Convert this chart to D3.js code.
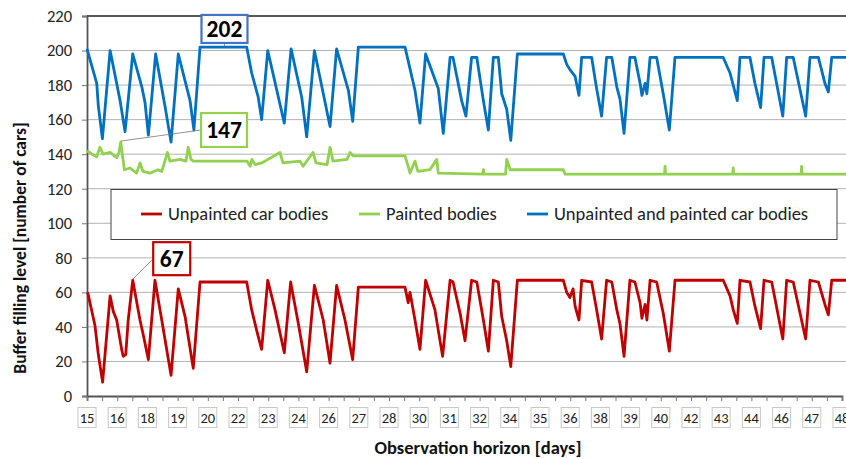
<!DOCTYPE html>
<html>
<head>
<meta charset="utf-8">
<script src="https://cdn.jsdelivr.net/npm/d3@7"></script>
<style>
  html, body { margin: 0; padding: 0; background: #fff; }
  svg { display: block; font-family: Carlito, Lato, "Open Sans", sans-serif; }
</style>
</head>
<body>
<div id="chart"></div>
<script>
// ── Data ──
const xTickLabels = ['15','16','18','19','20','22','23','24','26','27','28','30','31','32','34','35','36','38','39','40','42','43','44','46','47','48'];
const yTicks = [0, 20, 40, 60, 80, 100, 120, 140, 160, 180, 200, 220];

const seriesNames = ['Unpainted car bodies', 'Painted bodies', 'Unpainted and painted car bodies'];
const seriesColors = ['#c00000', '#92d050', '#0070c0'];

const redDays = [15.03,15.35,15.50,15.69,16.02,16.16,16.31,16.53,16.60,16.71,16.82,17.02,17.34,17.49,17.71,18.00,18.30,18.71,19.03,19.33,19.69,19.99,22.05,22.27,22.49,22.71,22.98,23.30,23.71,23.99,24.33,24.70,25.04,25.43,25.73,26.02,26.39,26.73,26.98,29.04,29.18,29.26,29.48,29.70,29.95,30.36,30.51,30.70,31.03,31.16,31.47,31.69,31.98,32.21,32.50,32.72,32.94,33.16,33.31,33.53,33.71,34.00,36.03,36.18,36.32,36.46,36.55,36.72,36.84,37.28,37.50,37.72,37.94,38.17,38.39,38.53,38.71,38.97,39.19,39.42,39.50,39.64,39.72,39.86,40.15,40.44,40.71,40.96,43.09,43.39,43.53,43.71,43.83,44.27,44.49,44.74,44.89,45.23,45.72,45.89,46.18,46.73,46.92,47.29,47.58,47.73,47.88,48.51];
const redVals = [60,41,24,8,58,49,44,27,23,24,44,67,44,35,21,67,44,12,62,46,16,66,66,50,38,27,67,50,25,66,42,14,64,44,19,64,44,21,63,63,54,60,44,27,67,50,38,23,67,66,48,32,67,66,44,26,67,66,46,32,17,67,67,60,57,62,52,44,67,66,50,33,67,66,50,42,23,67,66,54,45,53,44,67,66,48,26,67,67,58,50,42,67,66,52,39,67,66,33,67,66,33,67,66,53,47,67,67];

const greenDays = [15.00,15.22,15.43,15.57,15.71,16.02,16.31,16.41,16.49,16.65,16.90,17.19,17.34,17.47,17.78,18.13,18.30,18.44,18.55,18.66,19.11,19.37,19.47,19.59,19.69,22.06,22.20,22.28,22.42,22.73,22.99,23.52,23.65,24.40,24.54,24.98,25.11,25.60,25.73,25.86,26.48,26.61,26.76,29.04,29.22,29.26,29.48,29.61,30.14,30.44,30.51,32.47,32.50,32.53,33.48,33.53,33.68,36.03,36.10,40.50,40.52,40.54,43.51,43.53,43.55,46.53,46.55,46.57,48.51];
const greenVals = [142,140,138.5,144,140,141,138,141,147,131,132,129,135,130,129,131,130,136,141,136,137,136,144,137,136,136,133,137,134,135,137,141,135,136,133,141,135,134,144,136,137,141,139,139,131,129,136,130,131,137,129,128.5,131,128.5,128.5,137,131,131,128.5,128.5,133,128.5,128.5,132,128.5,128.5,133,128.5,128.5];

const blueDays = [15.00,15.43,15.50,15.68,16.02,16.31,16.46,16.68,17.02,17.42,17.56,17.71,18.03,18.44,18.71,19.03,19.55,19.72,19.99,22.05,22.27,22.56,22.71,22.98,23.71,24.01,24.48,24.70,25.04,25.73,26.02,26.54,26.73,26.98,29.04,29.48,29.70,29.95,30.51,30.73,31.03,31.16,31.54,31.73,31.98,32.21,32.50,32.72,32.94,33.16,33.31,33.53,33.71,34.00,36.03,36.18,36.32,36.55,36.72,36.84,37.28,37.50,37.72,37.94,38.17,38.39,38.53,38.71,38.97,39.19,39.42,39.50,39.64,39.72,39.86,40.15,40.44,40.71,40.96,43.09,43.39,43.53,43.71,43.83,44.27,44.49,44.74,44.89,45.23,45.72,45.89,46.18,46.73,46.92,47.29,47.58,47.73,47.88,48.51];
const blueVals = [201,181,168,149,200,181,171,153,198,179,170,151,198,168,147,198,171,154,202,202,187,173,160,200,158,201,173,150,200,156,201,177,159,202,202,177,158,198,178,152,196,196,171,162,196,196,171,154,196,196,175,166,148,198,198,192,189,185,174,196,196,178,162,196,196,179,172,152,196,196,181,174,181,175,196,196,175,154,196,196,187,180,171,196,196,181,167,196,196,162,196,196,162,196,196,181,176,196,196];

// callouts: label, target point, box centre (in data units), box size
const callouts = [
  { label: '202', color: '#4472c4', day: 21.07, value: 202, boxDay: 21.07, boxValue: 212.5, w: 46, h: 28 },
  { label: '147', color: '#92d050', day: 16.49, value: 147, boxDay: 21.05, boxValue: 154, w: 46, h: 34 },
  { label: '67',  color: '#c00000', day: 17.02, value: 67,  boxDay: 18.74, boxValue: 79.5, w: 37, h: 33 }
];

// ── Layout ──
const W = 846, H = 459;
const plotLeft = 87, plotTop = 16, plotBottom = 396;

const svg = d3.select('#chart').append('svg').attr('width', W).attr('height', H);

const x = d3.scaleLinear().domain([15, 15 + 25 * 4 / 3]).range([plotLeft, 842]);
const y = d3.scaleLinear().domain([0, 220]).range([plotBottom, plotTop]);

// Grid
svg.append('g').selectAll('line').data(yTicks.filter(t => t > 0 && t < 220)).enter().append('line')
  .attr('x1', plotLeft).attr('x2', W)
  .attr('y1', d => y(d)).attr('y2', d => y(d))
  .attr('stroke', '#b3b3b3').attr('stroke-width', 1);

// top border
svg.append('line').attr('x1', plotLeft).attr('x2', W)
  .attr('y1', y(220)).attr('y2', y(220))
  .attr('stroke', '#222').attr('stroke-width', 1.3);

// Y axis
const yAxis = svg.append('g').attr('transform', 'translate(' + plotLeft + ',0)')
  .call(d3.axisLeft(y).tickValues(yTicks).tickSize(5).tickPadding(10));
yAxis.select('.domain').attr('stroke', '#555').attr('stroke-width', 1.8);
yAxis.selectAll('.tick line').attr('stroke', '#777');
yAxis.selectAll('.tick text').style('font-size', '16.5px').style('fill', '#222')
  .style('font-family', 'Carlito, Lato, sans-serif');

// X axis: minor ticks every 2/3 day, labels every 4/3 day
const tickDays = d3.range(0, 51).map(i => 15 + i * 2 / 3);
const xAxis = svg.append('g').attr('transform', 'translate(0,' + plotBottom + ')')
  .call(d3.axisBottom(x).tickValues(tickDays).tickSize(5).tickFormat(''));
xAxis.select('.domain').attr('stroke', '#555').attr('stroke-width', 1.8);
xAxis.selectAll('.tick line').attr('stroke', '#777');

const lbl = svg.append('g').selectAll('g').data(xTickLabels).enter().append('g')
  .attr('transform', (d, i) => 'translate(' + x(15 + i * 4 / 3) + ',417.5)');
lbl.append('rect').attr('x', -9).attr('y', -10).attr('width', 18).attr('height', 20)
  .attr('fill', '#fff').attr('stroke', '#c8c8c8').attr('stroke-width', 1);
lbl.append('text').attr('text-anchor', 'middle').attr('dy', '0.36em')
  .style('font-size', '14.5px').style('fill', '#222').text(d => d);

// Axis titles
svg.append('text').attr('x', 478).attr('y', 448).attr('text-anchor', 'middle').attr('dy', '0.35em')
  .style('font-size', '18.5px').style('font-weight', '700').style('fill', '#111')
  .text('Observation horizon [days]');
svg.append('text').attr('transform', 'translate(20,248) rotate(-90)')
  .attr('text-anchor', 'middle').attr('dy', '0.35em')
  .style('font-size', '17.5px').style('font-weight', '700').style('fill', '#111')
  .text('Buffer filling level [number of cars]');

// Series lines
const line = d3.line().x(d => x(d[0])).y(d => y(d[1]));
const series = [d3.zip(redDays, redVals), d3.zip(greenDays, greenVals), d3.zip(blueDays, blueVals)];
svg.append('g').selectAll('path').data(series).enter().append('path')
  .attr('d', line).attr('fill', 'none')
  .attr('stroke', (d, i) => seriesColors[i]).attr('stroke-width', 2.8)
  .attr('stroke-linejoin', 'round');

// Legend
const lg = svg.append('g');
lg.append('rect').attr('x', 111).attr('y', 189.5).attr('width', 726).attr('height', 50)
  .attr('fill', '#fff').attr('stroke', '#444').attr('stroke-width', 1);
const legendX = [141, 359, 527];
seriesNames.forEach((name, i) => {
  lg.append('line').attr('x1', legendX[i]).attr('x2', legendX[i] + 21)
    .attr('y1', 214).attr('y2', 214)
    .attr('stroke', seriesColors[i]).attr('stroke-width', 2.8);
  lg.append('text').attr('x', legendX[i] + 27).attr('y', 214).attr('dy', '0.35em')
    .style('font-size', '18.5px').style('fill', '#222').text(name);
});

// Callouts
callouts.forEach(c => {
  const bx = x(c.boxDay), by = y(c.boxValue);
  const tx = x(c.day), ty = y(c.value);
  let sx, sy;
  if (Math.abs(tx - bx) < c.w / 2) { sx = bx; sy = by + c.h / 2; }
  else { sx = bx - c.w / 2; sy = by; }
  svg.append('line').attr('x1', sx).attr('y1', sy).attr('x2', tx).attr('y2', ty - 1)
    .attr('stroke', '#777').attr('stroke-width', 0.8);
  svg.append('rect').attr('x', bx - c.w / 2).attr('y', by - c.h / 2)
    .attr('width', c.w).attr('height', c.h)
    .attr('fill', '#fff').attr('stroke', c.color).attr('stroke-width', 2.2);
  svg.append('text').attr('x', bx).attr('y', by).attr('dy', '0.36em').attr('text-anchor', 'middle')
    .style('font-size', '23.5px').style('font-weight', '700').style('fill', '#000').text(c.label);
});
</script>
</body>
</html>
